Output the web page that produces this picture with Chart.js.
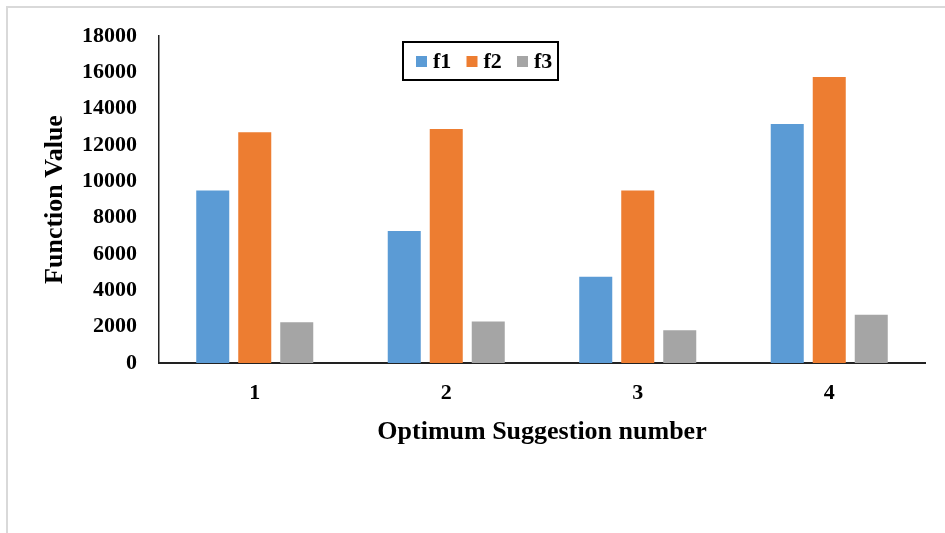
<!DOCTYPE html>
<html>
<head>
<meta charset="utf-8">
<script src="https://cdn.jsdelivr.net/npm/chart.js@4/dist/chart.umd.min.js"></script>
<style>
  html, body { margin: 0; padding: 0; background: #fff; }
  #wrap { width: 945px; height: 533px; position: relative; }
</style>
</head>
<body>
<div id="wrap"><canvas id="c" width="945" height="533"></canvas></div>
<script>
const categories = ['1', '2', '3', '4'];
const seriesNames = ['f1', 'f2', 'f3'];
const f1Values = [9500, 7270, 4750, 13150];
const f2Values = [12700, 12880, 9500, 15750];
const f3Values = [2250, 2280, 1800, 2650];
const yTickMin = 0;
const yTickMax = 18000;
const yTickStep = 2000;
const xTitle = 'Optimum Suggestion number';
const yTitle = 'Function Value';

const colors = ['#5B9BD5', '#ED7D31', '#A5A5A5'];
const FONT = '"Liberation Serif", "Times New Roman", serif';

const framePlugin = {
  id: 'frame',
  beforeDraw(chart) {
    const ctx = chart.ctx;
    ctx.save();
    ctx.fillStyle = '#fff';
    ctx.fillRect(0, 0, chart.width, chart.height);
    ctx.strokeStyle = '#d9d9d9';
    ctx.lineWidth = 2;
    ctx.beginPath();
    ctx.moveTo(7, chart.height);
    ctx.lineTo(7, 7);
    ctx.lineTo(chart.width, 7);
    ctx.stroke();
    ctx.restore();
  }
};

const legendPlugin = {
  id: 'boxLegend',
  afterDraw(chart) {
    const ctx = chart.ctx;
    ctx.save();
    ctx.strokeStyle = '#000';
    ctx.lineWidth = 2;
    ctx.strokeRect(403, 42, 155, 38);
    ctx.font = 'bold 22px ' + FONT;
    ctx.textBaseline = 'alphabetic';
    ctx.textAlign = 'left';
    chart.data.datasets.forEach((ds, i) => {
      const x0 = 416 + i * 50.5;
      ctx.fillStyle = ds.backgroundColor;
      ctx.fillRect(x0, 56, 11, 11);
      ctx.fillStyle = '#000';
      ctx.fillText(ds.label, x0 + 17, 67.5);
    });
    ctx.restore();
  }
};

const valueSets = [f1Values, f2Values, f3Values];

new Chart(document.getElementById('c'), {
  type: 'bar',
  data: {
    labels: categories,
    datasets: seriesNames.map((name, i) => ({
      label: name,
      data: valueSets[i],
      backgroundColor: colors[i],
      borderWidth: 0,
      categoryPercentage: 0.658,
      barPercentage: 0.786
    }))
  },
  options: {
    responsive: false,
    animation: false,
    devicePixelRatio: 1,
    layout: { padding: { top: 36, right: 20, bottom: 85, left: 40 } },
    plugins: {
      legend: { display: false },
      tooltip: { enabled: false }
    },
    scales: {
      x: {
        grid: { display: false, drawTicks: false },
        border: { display: true, color: '#222', width: 2 },
        ticks: {
          color: '#000',
          padding: 17,
          font: { family: FONT, size: 22, weight: 'bold' }
        },
        title: {
          display: true,
          text: xTitle,
          color: '#000',
          padding: 0,
          font: { family: FONT, size: 26, weight: 'bold' }
        },
        afterFit(scale) { scale.height = 85; }
      },
      y: {
        min: yTickMin,
        max: yTickMax,
        grid: { display: false, drawTicks: false },
        border: { display: true, color: '#222', width: 1.5 },
        ticks: {
          stepSize: yTickStep,
          color: '#000',
          padding: 22,
          font: { family: FONT, size: 22, weight: 'bold' },
          callback: (v) => String(v)
        },
        title: {
          display: true,
          text: yTitle,
          color: '#000',
          padding: 0,
          font: { family: FONT, size: 26, weight: 'bold' }
        },
        afterFit(scale) { scale.width = 119; }
      }
    }
  },
  plugins: [framePlugin, legendPlugin]
});
</script>
</body>
</html>
